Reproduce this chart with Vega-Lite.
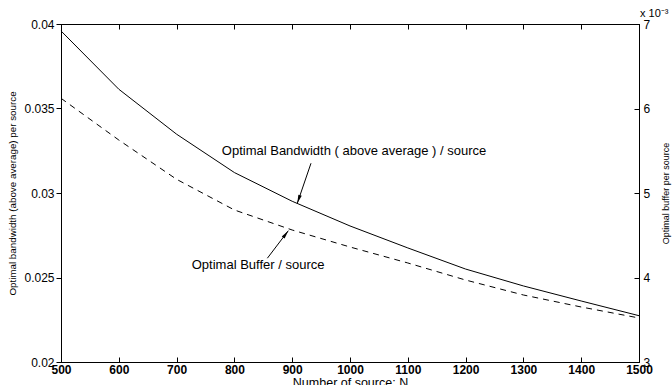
{
  "$schema": "https://vega.github.io/schema/vega-lite/v6.json",
  "width": 578,
  "height": 338,
  "autosize": {"type": "none"},
  "padding": {"left": 61, "top": 24, "right": 33, "bottom": 23},
  "background": "white",
  "config": {
    "font": "Liberation Sans",
    "view": {"stroke": "black", "strokeWidth": 1},
    "axis": {
      "domainColor": "black",
      "tickColor": "black",
      "labelColor": "black",
      "titleColor": "black",
      "grid": false,
      "labelFlush": false,
      "labelOverlap": false,
      "labelFont": "Liberation Sans",
      "titleFont": "Liberation Sans",
      "titleFontWeight": "normal"
    }
  },
  "datasets": {
    "curves": [
      {"N": 500, "bandwidth": 0.03959, "buffer": 0.006121},
      {"N": 600, "bandwidth": 0.03614, "buffer": 0.005627},
      {"N": 700, "bandwidth": 0.03348, "buffer": 0.005162},
      {"N": 800, "bandwidth": 0.03121, "buffer": 0.004799},
      {"N": 900, "bandwidth": 0.02951, "buffer": 0.004562},
      {"N": 1000, "bandwidth": 0.02805, "buffer": 0.004361},
      {"N": 1100, "bandwidth": 0.02675, "buffer": 0.004172},
      {"N": 1200, "bandwidth": 0.0255, "buffer": 0.00397},
      {"N": 1300, "bandwidth": 0.0245, "buffer": 0.003793},
      {"N": 1400, "bandwidth": 0.02361, "buffer": 0.003651},
      {"N": 1500, "bandwidth": 0.02274, "buffer": 0.003521}
    ],
    "labels": [
      {"N": 1007, "y": 0.03249, "text": "Optimal Bandwidth ( above average ) / source"},
      {"N": 841, "y": 0.02574, "text": "Optimal Buffer / source"}
    ],
    "arrows": [
      {"N": 932.5, "y": 0.03176, "N2": 908.8, "y2": 0.02939, "angle": 199},
      {"N": 857, "y": 0.02614, "N2": 893.3, "y2": 0.02777, "angle": 37}
    ],
    "scale": [
      {"N": 1500, "buffer": 0.007, "text": "x 10⁻³"}
    ]
  },
  "layer": [
    {
      "layer": [
        {
          "data": {"name": "curves"},
          "mark": {"type": "line", "color": "black", "strokeWidth": 1},
          "encoding": {
            "x": {
              "field": "N", "type": "quantitative",
              "scale": {"domain": [500, 1500], "nice": false, "zero": false},
              "axis": {
                "orient": "bottom",
                "values": [500, 600, 700, 800, 900, 1000, 1100, 1200, 1300, 1400, 1500],
                "format": "d",
                "tickSize": -5,
                "labelPadding": 7,
                "labelFontSize": 12,
                "labelFontWeight": "bold",
                "title": "Number of source: N",
                "titleFontSize": 12.5,
                "titlePadding": 1
              }
            },
            "y": {
              "field": "bandwidth", "type": "quantitative",
              "scale": {"domain": [0.02, 0.04], "nice": false, "zero": false},
              "axis": {
                "orient": "left",
                "values": [0.02, 0.025, 0.03, 0.035, 0.04],
                "format": "~g",
                "tickSize": 5,
                "labelPadding": 2,
                "labelFontSize": 12,
                "title": "Optimal bandwidth (above average) per source",
                "titleFontSize": 9.8,
                "titlePadding": 6
              }
            }
          }
        },
        {
          "data": {"name": "labels"},
          "mark": {"type": "text", "fontSize": 13, "color": "black", "align": "center", "baseline": "middle"},
          "encoding": {
            "x": {"field": "N", "type": "quantitative"},
            "y": {"field": "y", "type": "quantitative"},
            "text": {"field": "text"}
          }
        },
        {
          "data": {"name": "arrows"},
          "mark": {"type": "rule", "color": "black", "strokeWidth": 1},
          "encoding": {
            "x": {"field": "N", "type": "quantitative"},
            "y": {"field": "y", "type": "quantitative"},
            "x2": {"field": "N2"},
            "y2": {"field": "y2"}
          }
        },
        {
          "data": {"name": "arrows"},
          "mark": {"type": "point", "filled": true, "color": "black", "opacity": 1, "shape": "M0,0L0.38,1.8L-0.38,1.8Z", "size": 90},
          "encoding": {
            "x": {"field": "N2", "type": "quantitative"},
            "y": {"field": "y2", "type": "quantitative"},
            "angle": {"field": "angle", "type": "quantitative", "scale": null}
          }
        }
      ]
    },
    {
      "layer": [
        {
          "data": {"name": "curves"},
          "mark": {"type": "line", "color": "black", "strokeWidth": 1, "strokeDash": [6, 5]},
          "encoding": {
            "x": {
              "field": "N", "type": "quantitative",
              "axis": {
                "orient": "top",
                "values": [500, 600, 700, 800, 900, 1000, 1100, 1200, 1300, 1400, 1500],
                "tickSize": -5,
                "labels": false,
                "title": null
              }
            },
            "y": {
              "field": "buffer", "type": "quantitative",
              "scale": {"domain": [0.003, 0.007], "nice": false, "zero": false},
              "axis": {
                "orient": "right",
                "values": [0.003, 0.004, 0.005, 0.006, 0.007],
                "labelExpr": "format(datum.value * 1000, '~g')",
                "tickSize": -5,
                "labelPadding": 9,
                "labelFontSize": 12,
                "title": "Optimal buffer per source",
                "titleFontSize": 9,
                "titleAngle": 270,
                "titlePadding": 21
              }
            }
          }
        },
        {
          "data": {"name": "scale"},
          "mark": {"type": "text", "fontSize": 11, "color": "black", "align": "left", "baseline": "bottom", "dx": 1, "dy": -5},
          "encoding": {
            "x": {"field": "N", "type": "quantitative"},
            "y": {"field": "buffer", "type": "quantitative"},
            "text": {"field": "text"}
          }
        }
      ]
    }
  ],
  "resolve": {"scale": {"y": "independent"}, "axis": {"x": "independent"}}
}
